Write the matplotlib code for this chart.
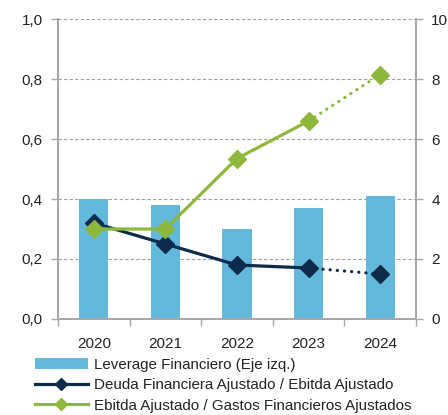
import matplotlib
matplotlib.use("Agg")
import matplotlib.pyplot as plt
from matplotlib.lines import Line2D
from matplotlib.patches import Patch
import numpy as np

plt.rcParams['font.family'] = ['Liberation Sans', 'DejaVu Sans']

years = ["2020", "2021", "2022", "2023", "2024"]
leverage = [0.40, 0.38, 0.30, 0.37, 0.41]
deuda_ebitda = [3.2, 2.5, 1.8, 1.7, 1.5]
ebitda_gastos = [3.0, 3.0, 5.35, 6.6, 8.15]
left_ticks = [0.0, 0.2, 0.4, 0.6, 0.8, 1.0]
left_labels = ["0,0", "0,2", "0,4", "0,6", "0,8", "1,0"]
right_ticks = [0, 2, 4, 6, 8, 10]

c_bar = "#63B9DC"
c_navy = "#0E2B4C"
c_green = "#8DB83B"
c_axis = "#A6A6A6"

fig = plt.figure(figsize=(4.48, 4.15), dpi=100)
ax = fig.add_axes([58/448, 1-319/415, (416-58)/448, 300/415])
ax2 = ax.twinx()

x = np.arange(len(years))
ax.bar(x, leverage, width=0.41, color=c_bar, zorder=2)
ax.set_xlim(-0.5, 4.5)
ax.set_ylim(0, 1.0)
ax.set_yticks(left_ticks)
ax.set_yticklabels(left_labels)
ax.set_xticks(x)
ax.set_xticklabels(years)
ax.set_xticks(np.arange(-0.5, 5, 1), minor=True)
ax.tick_params(axis='x', which='major', length=0, pad=13, labelsize=11, colors='#222222')
ax.tick_params(axis='x', which='minor', length=5, color=c_axis, width=1)
ax.tick_params(axis='y', length=5, color=c_axis, width=1, labelsize=11, labelcolor='#222222', pad=6)
for yv in left_ticks[1:]:
    ax.axhline(yv, color='#A0A0A0', lw=0.8, ls=(0, (3, 2)), zorder=1)

ax2.set_ylim(0, 10)
ax2.set_yticks(right_ticks)
ax2.tick_params(axis='y', length=5, color=c_axis, width=1, labelsize=11, labelcolor='#222222', pad=6)

for a in (ax, ax2):
    a.spines['top'].set_visible(False)
    for s in ('left', 'right', 'bottom'):
        a.spines[s].set_color(c_axis)
        a.spines[s].set_linewidth(1.2)

ms = 9
lw = 2.3
dots = (0, (0.05, 2.2))
ax2.plot(x[:4], deuda_ebitda[:4], color=c_navy, lw=lw, zorder=3)
ax2.plot(x[3:], deuda_ebitda[3:], color=c_navy, lw=lw, ls=dots, dash_capstyle='round', zorder=3)
ax2.plot(x, deuda_ebitda, ls='none', marker='D', ms=ms, color=c_navy, zorder=4)

ax2.plot(x[:4], ebitda_gastos[:4], color=c_green, lw=lw, zorder=5)
ax2.plot(x[3:], ebitda_gastos[3:], color=c_green, lw=lw, ls=dots, dash_capstyle='round', zorder=5)
ax2.plot(x, ebitda_gastos, ls='none', marker='D', ms=ms, color=c_green, zorder=6)

handles = [
    Patch(facecolor=c_bar, edgecolor='none'),
    Line2D([], [], color=c_navy, lw=2.3, marker='D', ms=6),
    Line2D([], [], color=c_green, lw=2.3, marker='D', ms=6),
]
labels = ["Leverage Financiero (Eje izq.)",
          "Deuda Financiera Ajustado / Ebitda Ajustado",
          "Ebitda Ajustado / Gastos Financieros Ajustados"]
fig.legend(handles, labels, loc='upper left', bbox_to_anchor=(35/448, 1-358/415),
           frameon=False, fontsize=10.9, handlelength=3.5, handletextpad=0.4,
           labelspacing=0.42, borderpad=0, borderaxespad=0, labelcolor='#222222')

fig.savefig("out.png", dpi=100)
